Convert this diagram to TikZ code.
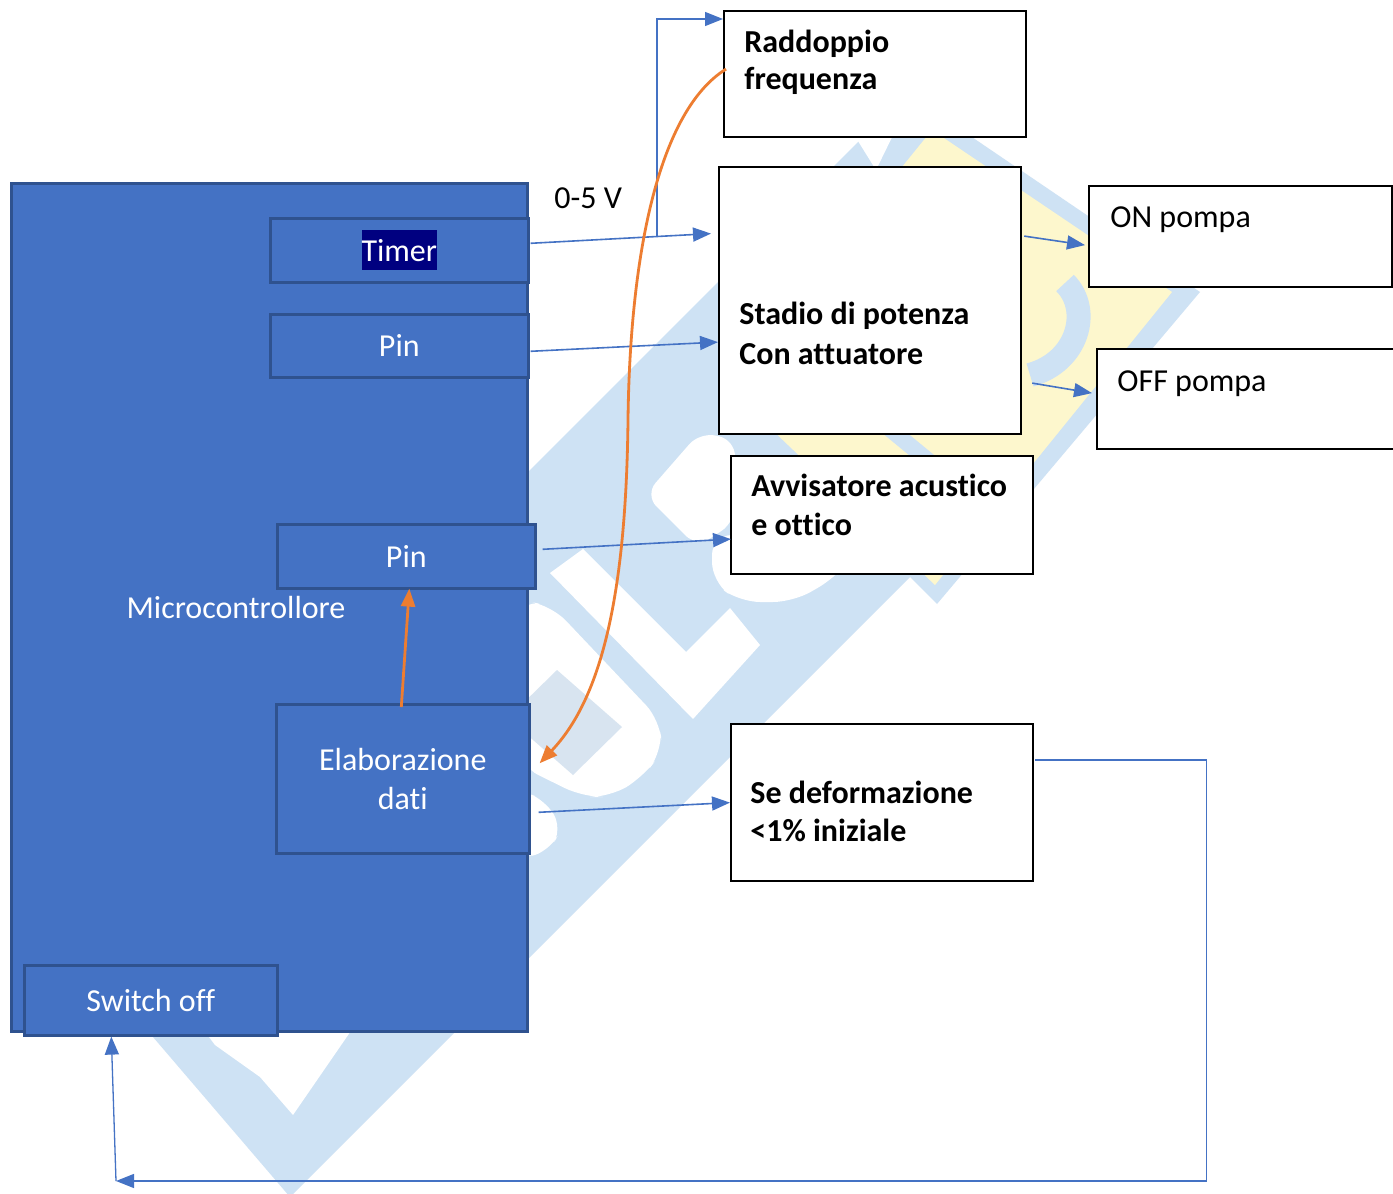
\documentclass[tikz,border=0pt]{standalone}
\usepackage{fontspec}
\setmainfont{Carlito}[Ligatures={TeX,NoCommon}]
\usetikzlibrary{arrows.meta,calc}
\definecolor{mcblue}{HTML}{4472C4}
\definecolor{mcedge}{HTML}{2F528F}
\definecolor{orng}{HTML}{ED7D31}
\definecolor{wmblue}{RGB}{206,226,244}
\definecolor{wmyel}{RGB}{253,247,205}
\definecolor{wmgrey}{RGB}{216,228,240}
\definecolor{hilite}{HTML}{000080}
\newcommand\dfont{\fontsize{16}{19.5}\selectfont}
\begin{document}
\begin{tikzpicture}[x=0.5pt,y=-0.5pt,
  mcbox/.style={draw=mcedge, line width=1.3pt, fill=mcblue, text=white, inner sep=0pt, anchor=north west, font=\dfont},
  wbox/.style={draw=black, line width=1.1pt, fill=white, inner sep=0pt, anchor=north west},
  lbl/.style={anchor=base west, inner sep=0pt, font=\dfont\bfseries},
  rlbl/.style={anchor=base west, inner sep=0pt, font=\dfont},
  conn/.style={draw=mcblue, line width=0.8pt, -{Triangle[length=9pt,width=7pt]}},
  thinconn/.style={conn, line width=0.65pt},
  oconn/.style={draw=orng, line width=1.4pt, -{Triangle[length=9pt,width=7pt]}}]
\useasboundingbox (0,0) rectangle (1393,1194);
\fill[white] (0,0) rectangle (1393,1194);
% watermark
\begin{scope}
\clip (0,0) rectangle (1393,1194);
\fill[wmblue] (45,955) -- (872,128) -- (935,112) -- (1200,292) -- (937,604) -- (910,577) -- (290,1197) -- (147,1030) -- cycle;
\fill[white] (848,125) -- (898,125) -- (876,170) -- cycle;
\fill[white, rounded corners=8pt] (645,495) -- (700,432) -- (735,440) -- (735,522) -- (697,547) -- cycle;
\fill[white, rounded corners=10pt] (712,535) -- (712,582) -- (740,602) -- (793,602) -- (835,578) -- (850,560) -- (850,535) -- cycle;
\fill[wmyel] (932,130) -- (1172,292) -- (935,585) -- (725,385) -- cycle;
\draw[wmblue, line width=12pt] (1065,283) .. controls (1092,310) and (1078,362) .. (1030,375);
\draw[wmblue, line width=8pt] (885,425) -- (930,462);
\fill[white] (550,573) -- (693,719) -- (760,645) -- (730,608) -- (686,652) -- (583,549) -- cycle;
\fill[white, rounded corners=10pt] (520,600) -- (552,606) -- (660,720) -- (662,752) -- (643,777) -- (610,797) -- (583,797) -- (520,766) -- cycle;
\fill[wmgrey] (557,670) -- (622,727) -- (573,775) -- (508,718) -- cycle;
\fill[white, rounded corners=8pt] (520,790) -- (545,800) -- (562,828) -- (550,850) -- (520,860) -- cycle;
\fill[white] (200,1025) -- (215,1045) -- (260,1077) -- (293,1115) -- (355,1025) -- cycle;
\end{scope}
% microcontroller
\node[mcbox, minimum width=258pt, minimum height=424pt] (micro) at (10,182) {};
\node[anchor=base, inner sep=0pt, text=white, font=\dfont] (microlbl) at (236,618) {Microcontrollore};
\node[mcbox, minimum width=129pt, minimum height=32pt] (timer) at (269,217) {};
\node[fill=hilite, text=white, inner sep=0pt, text height=15.5pt, text depth=4.5pt, font=\dfont] (timerlbl) at (timer.center) {Timer};
\node[mcbox, minimum width=129pt, minimum height=31.5pt] (pin1) at (269,313) {Pin};
\node[mcbox, minimum width=129pt, minimum height=32pt] (pin2) at (276,523) {Pin};
\node[mcbox, minimum width=126.5pt, minimum height=74.5pt, align=center] (elab) at (275,703) {Elaborazione\\dati};
\node[mcbox, minimum width=126.5pt, minimum height=35pt] (switch) at (23,964) {Switch off};
% right boxes
\node[wbox, minimum width=151pt, minimum height=63pt] (radd) at (723,10) {};
\node[wbox, minimum width=151pt, minimum height=133.5pt] (stadio) at (718,166) {};
\node[wbox, minimum width=151.5pt, minimum height=50.5pt] (on) at (1088,185) {};
\node[wbox, minimum width=152pt, minimum height=50pt] (off) at (1096,348) {};
\node[wbox, minimum width=151pt, minimum height=59pt] (avv) at (730,455) {};
\node[wbox, minimum width=151pt, minimum height=78.5pt] (sedef) at (730,723) {};
\node[lbl] (radd1) at (744,52) {Raddoppio};
\node[lbl] (radd2) at (744,90) {frequenza};
\node[lbl] (stad1) at (739,324) {Stadio di potenza};
\node[lbl] (stad2) at (739,364) {Con attuatore};
\node[rlbl] (ontxt) at (1110,227) {ON pompa};
\node[rlbl] (offtxt) at (1117,391) {OFF pompa};
\node[lbl] (avv1) at (751,496) {Avvisatore acustico};
\node[lbl] (avv2) at (751,535) {e ottico};
\node[lbl] (sed1) at (750,803) {Se deformazione};
\node[lbl] (sed2) at (750,841) {<1\% iniziale};
\node[rlbl] (volt) at (554,208) {0-5 V};
% connectors
\draw[conn] ($(timer.east)+(1,-7)$) -- coordinate[pos=0.7] (tap) ($(stadio.west)+(-7,-67)$);
\draw[thinconn] (tap) |- ($(radd.north west)+(0,9)$);
\draw[conn] ($(pin1.east)+(1,5.5)$) -- ($(stadio.west)+(0,41.5)$);
\draw[conn] ($(stadio.east)+(2,-64.5)$) -- ($(on.west)+(-3,8.5)$);
\draw[conn] ($(stadio.east)+(10,82.5)$) -- ($(off.west)+(-4,-6)$);
\draw[conn] ($(pin2.east)+(6,-7)$) -- ($(avv.west)+(1,24)$);
\draw[conn] ($(elab.east)+(8,33.5)$) -- (sedef.west);
\coordinate (corner) at (116,1181);
\draw[thinconn] ($(sedef.east)+(1,-42.5)$) -- ++(171,0) |- (corner);
\draw[thinconn] (corner) -- ($(switch.south)+(-39.5,0)$);
\draw[oconn] ($(elab.north)+(-1.5,4)$) -- ($(pin2.south)+(3,-1)$);
\draw[oconn] ($(radd.west)+(3,-5)$) .. controls (660,110) and (630,250) .. (628,420) .. controls (626,600) and (600,700) .. ($(elab.east)+(9,-15.5)$);
\end{tikzpicture}
\end{document}
